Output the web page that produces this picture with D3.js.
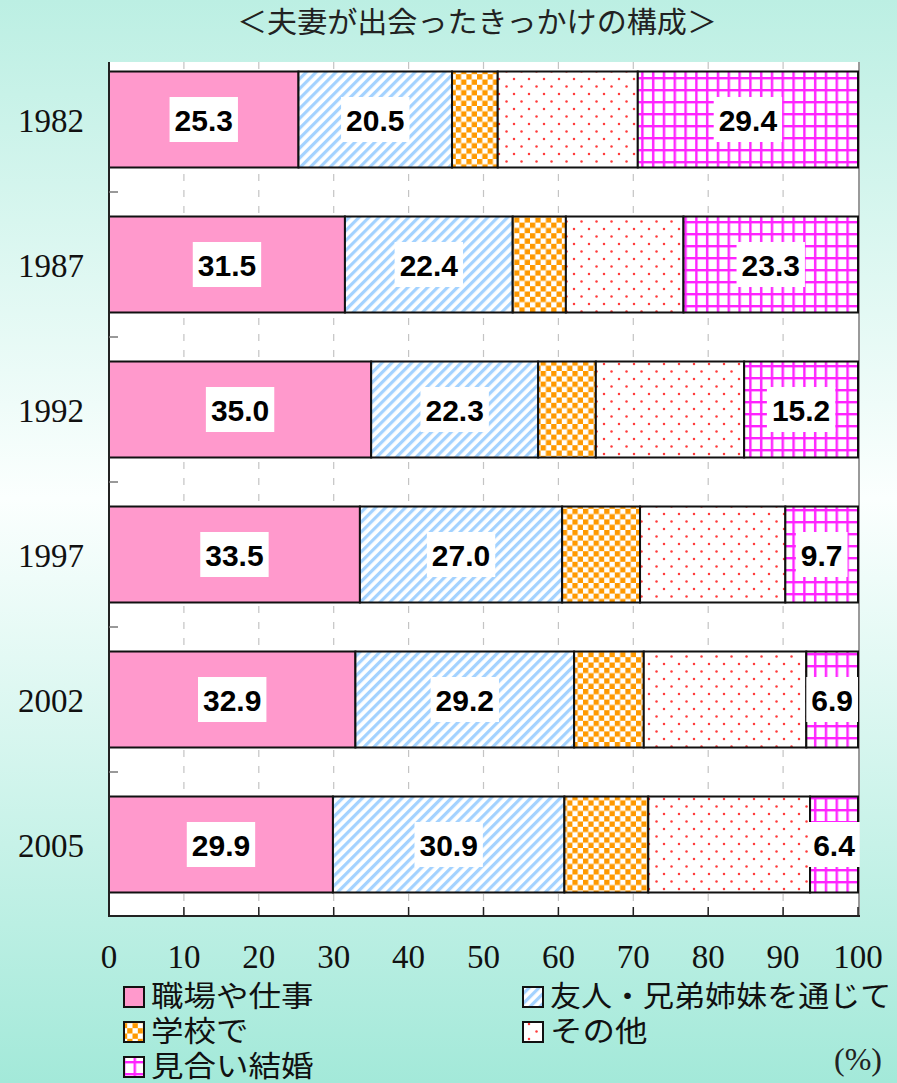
<!DOCTYPE html>
<html>
<head>
<meta charset="utf-8">
<script src="https://cdn.jsdelivr.net/npm/d3@7"></script>
<style>
  html, body { margin: 0; padding: 0; }
  body { width: 897px; height: 1083px; overflow: hidden; }
</style>
</head>
<body>
<svg id="chart" width="897" height="1083"></svg>
<script>
// ---- data ----
const categories = ["1982", "1987", "1992", "1997", "2002", "2005"];
const seriesNames = ["職場や仕事", "友人・兄弟姉妹を通じて", "学校で", "その他", "見合い結婚"];
const workValues     = [25.3, 31.5, 35.0, 33.5, 32.9, 29.9];
const friendValues   = [20.5, 22.4, 22.3, 27.0, 29.2, 30.9];
const schoolValues   = [6.1, 7.1, 7.7, 10.4, 9.3, 11.2];
const otherValues    = [18.7, 15.7, 19.8, 19.4, 21.7, 21.6];
const arrangedValues = [29.4, 23.3, 15.2, 9.7, 6.9, 6.4];
const xTickValues = [0, 10, 20, 30, 40, 50, 60, 70, 80, 90, 100];
const labeledSeries = ["職場や仕事", "友人・兄弟姉妹を通じて", "見合い結婚"];
const titleText = "＜夫妻が出会ったきっかけの構成＞";
const unitText = "(%)";

const seriesValues = [workValues, friendValues, schoolValues, otherValues, arrangedValues];
const rows = categories.map((c, i) => {
  const r = { year: c };
  seriesNames.forEach((s, j) => r[s] = seriesValues[j][i]);
  return r;
});

// ---- layout ----
const W = 897, H = 1083;
const plot = { left: 109, right: 858, top: 62, bottom: 916 };
const svg = d3.select("#chart");
const defs = svg.append("defs");

// background gradient
const bg = defs.append("linearGradient").attr("id", "bg").attr("x1", 0).attr("y1", 0).attr("x2", 0).attr("y2", 1);
bg.append("stop").attr("offset", "0%").attr("stop-color", "#bcefe3");
bg.append("stop").attr("offset", "46%").attr("stop-color", "#fbfffe");
bg.append("stop").attr("offset", "100%").attr("stop-color", "#a3e9d9");
svg.append("rect").attr("width", W).attr("height", H).attr("fill", "url(#bg)");

// patterns
const pStripe = defs.append("pattern").attr("id", "p-stripe").attr("patternUnits", "userSpaceOnUse")
  .attr("width", 7).attr("height", 7).attr("patternTransform", "rotate(45)");
pStripe.append("rect").attr("width", 7).attr("height", 7).attr("fill", "#ffffff");
pStripe.append("rect").attr("x", 0).attr("width", 3.2).attr("height", 7).attr("fill", "#a3d2ff");

const pCheck = defs.append("pattern").attr("id", "p-check").attr("patternUnits", "userSpaceOnUse")
  .attr("width", 10.6).attr("height", 10.6);
pCheck.append("rect").attr("width", 10.6).attr("height", 10.6).attr("fill", "#ffffff");
pCheck.append("rect").attr("x", 0).attr("y", 0).attr("width", 5.3).attr("height", 5.3).attr("fill", "#ff9900");
pCheck.append("rect").attr("x", 5.3).attr("y", 5.3).attr("width", 5.3).attr("height", 5.3).attr("fill", "#ff9900");

const pDot = defs.append("pattern").attr("id", "p-dot").attr("patternUnits", "userSpaceOnUse")
  .attr("width", 15).attr("height", 15);
pDot.append("rect").attr("width", 15).attr("height", 15).attr("fill", "#ffffff");
pDot.append("circle").attr("cx", 4).attr("cy", 4).attr("r", 1.25).attr("fill", "#ff3b3b");
pDot.append("circle").attr("cx", 11.5).attr("cy", 11.5).attr("r", 1.25).attr("fill", "#ff3b3b");

const pGrid = defs.append("pattern").attr("id", "p-grid").attr("patternUnits", "userSpaceOnUse")
  .attr("width", 10.8).attr("height", 12);
pGrid.append("rect").attr("width", 10.8).attr("height", 12).attr("fill", "#ffffff");
pGrid.append("rect").attr("x", 4).attr("y", 0).attr("width", 2.4).attr("height", 12).attr("fill", "#ff22ff");
pGrid.append("rect").attr("x", 0).attr("y", 5).attr("width", 10.8).attr("height", 2.4).attr("fill", "#ff22ff");

const fills = ["#ff99cc", "url(#p-stripe)", "url(#p-check)", "url(#p-dot)", "url(#p-grid)"];
const color = d3.scaleOrdinal().domain(seriesNames).range(fills);

// scales
const x = d3.scaleLinear().domain([0, 100]).range([plot.left, plot.right]);
const y = d3.scaleBand().domain(categories).range([47, 917]).paddingInner(0.338).paddingOuter(0.169);

// plot area
svg.append("rect").attr("x", plot.left).attr("y", plot.top)
  .attr("width", plot.right - plot.left).attr("height", plot.bottom - plot.top)
  .attr("fill", "#ffffff");

// gridlines
svg.append("g").selectAll("line").data(xTickValues.filter(d => d > 0 && d < 100)).join("line")
  .attr("x1", d => x(d)).attr("x2", d => x(d))
  .attr("y1", plot.top).attr("y2", plot.bottom)
  .attr("stroke", "#c4c4c4").attr("stroke-width", 1.2).attr("stroke-dasharray", "7,9");

// right border (gray)
svg.append("line").attr("x1", plot.right + 1).attr("x2", plot.right + 1)
  .attr("y1", plot.top).attr("y2", plot.bottom).attr("stroke", "#9a9a9a").attr("stroke-width", 2);

// stacked bars
const stack = d3.stack().keys(seriesNames);
const stacked = stack(rows);

const gBars = svg.append("g");
stacked.forEach(layer => {
  gBars.append("g").selectAll("rect").data(layer).join("rect")
    .attr("x", d => x(d[0]))
    .attr("y", d => y(d.data.year))
    .attr("width", d => x(d[1]) - x(d[0]))
    .attr("height", y.bandwidth())
    .attr("fill", color(layer.key))
    .attr("stroke", "#111")
    .attr("stroke-width", 2);
});

// axes lines
svg.append("line").attr("x1", plot.left).attr("x2", plot.left).attr("y1", plot.top).attr("y2", plot.bottom + 1)
  .attr("stroke", "#222").attr("stroke-width", 2);
svg.append("line").attr("x1", plot.left - 1).attr("x2", plot.right + 2).attr("y1", plot.bottom).attr("y2", plot.bottom)
  .attr("stroke", "#222").attr("stroke-width", 2);

// x ticks (inward)
svg.append("g").selectAll("line").data(xTickValues).join("line")
  .attr("x1", d => x(d)).attr("x2", d => x(d))
  .attr("y1", plot.bottom - 9).attr("y2", plot.bottom)
  .attr("stroke", "#222").attr("stroke-width", 1.5);

// y ticks at band boundaries (inward)
const boundaries = categories.slice(1).map(c => y(c) - y.step() * y.paddingInner() / 2);
svg.append("g").selectAll("line").data(boundaries).join("line")
  .attr("x1", plot.left).attr("x2", plot.left + 9)
  .attr("y1", d => d).attr("y2", d => d)
  .attr("stroke", "#777").attr("stroke-width", 1.5);

// x tick labels
svg.append("g").selectAll("text").data(xTickValues).join("text")
  .attr("x", d => x(d)).attr("y", 968)
  .attr("text-anchor", "middle")
  .attr("font-family", "Liberation Serif, DejaVu Serif, serif")
  .attr("font-size", 33).attr("fill", "#111")
  .text(d => d);

// y labels
svg.append("g").selectAll("text").data(categories).join("text")
  .attr("x", 84).attr("y", d => y(d) + y.bandwidth() / 2 + 12)
  .attr("text-anchor", "end")
  .attr("font-family", "Liberation Serif, DejaVu Serif, serif")
  .attr("font-size", 33).attr("fill", "#111")
  .text(d => d);

// value labels
const gLab = svg.append("g");
stacked.filter(l => labeledSeries.includes(l.key)).forEach(layer => {
  layer.forEach(d => {
    const cx = (x(d[0]) + x(d[1])) / 2;
    const cy = y(d.data.year) + y.bandwidth() / 2;
    const g = gLab.append("g");
    const box = g.append("rect").attr("fill", "#ffffff");
    const t = g.append("text")
      .attr("x", cx).attr("y", cy + 11)
      .attr("text-anchor", "middle")
      .attr("font-family", "Liberation Sans, Arial, sans-serif")
      .attr("font-weight", "bold").attr("font-size", 30).attr("fill", "#000")
      .text((d[1] - d[0]).toFixed(1));
    const w = t.node().getComputedTextLength();
    box.attr("x", cx - w / 2 - 5).attr("y", cy - 22.5).attr("width", w + 10).attr("height", 45);
  });
});

// title
svg.append("text").attr("x", 477).attr("y", 33).attr("text-anchor", "middle")
  .attr("font-family", "Noto Sans CJK JP, sans-serif").attr("font-size", 29).attr("fill", "#222")
  .attr("textLength", 480).attr("lengthAdjust", "spacingAndGlyphs")
  .text(titleText);

// legend
const legendPos = [
  { x: 124, y: 997 }, { x: 523, y: 997 },
  { x: 124, y: 1032 }, { x: 523, y: 1032 },
  { x: 124, y: 1067 }
];
const gLeg = svg.append("g");
seriesNames.forEach((s, i) => {
  const p = legendPos[i];
  gLeg.append("rect").attr("x", p.x).attr("y", p.y - 10).attr("width", 20).attr("height", 20)
    .attr("fill", color(s)).attr("stroke", "#111").attr("stroke-width", 2);
  const units = Array.from(s).reduce((a, ch) => a + (ch === "・" ? 0.5 : 1), 0);
  gLeg.append("text").attr("x", p.x + 27).attr("y", p.y + 10)
    .attr("font-family", "Noto Sans CJK JP, sans-serif").attr("font-size", 29).attr("fill", "#111")
    .attr("textLength", units * 32.5).attr("lengthAdjust", "spacingAndGlyphs")
    .text(s);
});
svg.append("text").attr("x", 882).attr("y", 1070).attr("text-anchor", "end")
  .attr("font-family", "Liberation Serif, serif").attr("font-size", 32).attr("fill", "#222")
  .text(unitText);
</script>
</body>
</html>
